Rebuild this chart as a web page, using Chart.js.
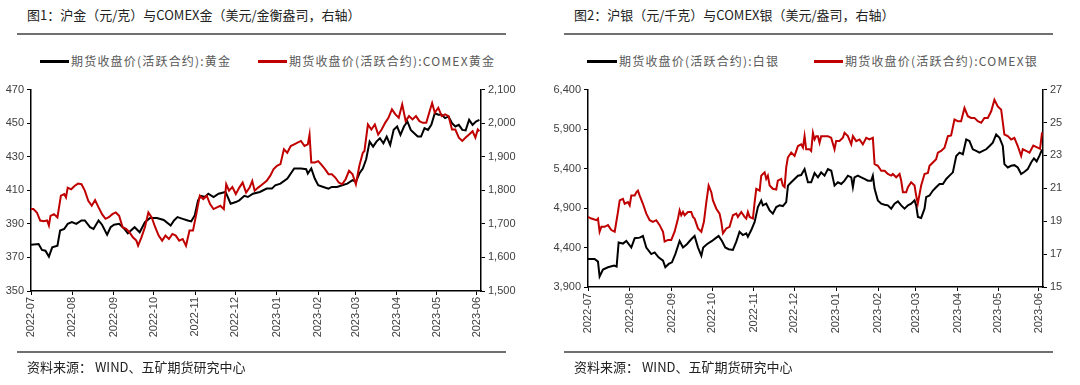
<!DOCTYPE html>
<html><head><meta charset="utf-8">
<script src="https://cdn.jsdelivr.net/npm/chart.js@4/dist/chart.umd.min.js"></script>
<style>
body{margin:0;width:1080px;height:385px;background:#fff;position:relative;overflow:hidden;font-family:"Noto Sans CJK SC",sans-serif;}
.t{position:absolute;font-size:13px;color:#222;white-space:nowrap;line-height:18px;}
.rule{position:absolute;height:2px;background:#707070;}
.leg{position:absolute;font-size:12px;color:#595959;letter-spacing:1.2px;white-space:nowrap;line-height:16px;}
.sw{position:absolute;height:3px;}
.box{position:absolute;top:80px;width:540px;height:275px;}
</style></head><body>
<div class="t" style="left:27px;top:6px;">图1：沪金（元/克）与COMEX金（美元/金衡盎司，右轴）</div>
<div class="rule" style="left:17px;top:33px;width:489px;"></div>
<div class="sw" style="left:40px;top:60px;width:29px;background:#000;"></div>
<div class="leg" style="left:71px;top:53px;">期货收盘价(活跃合约):黄金</div>
<div class="sw" style="left:258px;top:60px;width:29px;background:#C00000;"></div>
<div class="leg" style="left:289px;top:53px;">期货收盘价(活跃合约):COMEX黄金</div>
<div class="box" style="left:0;"><canvas id="c1" width="540" height="275"></canvas></div>
<div class="rule" style="left:17px;top:351px;width:489px;"></div>
<div class="t" style="left:27px;top:358px;">资料来源：&nbsp;WIND、五矿期货研究中心</div>

<div class="t" style="left:574px;top:6px;">图2：沪银（元/千克）与COMEX银（美元/盎司，右轴）</div>
<div class="rule" style="left:564px;top:33px;width:489px;"></div>
<div class="sw" style="left:587px;top:60px;width:30px;background:#000;"></div>
<div class="leg" style="left:619px;top:53px;">期货收盘价(活跃合约):白银</div>
<div class="sw" style="left:814px;top:60px;width:29px;background:#C00000;"></div>
<div class="leg" style="left:845px;top:53px;">期货收盘价(活跃合约):COMEX银</div>
<div class="box" style="left:540px;"><canvas id="c2" width="540" height="275"></canvas></div>
<div class="rule" style="left:564px;top:351px;width:489px;"></div>
<div class="t" style="left:574px;top:358px;">资料来源：&nbsp;WIND、五矿期货研究中心</div>

<script>
// x tick labels (month starts, in days since 2022-07-01)
const monthLabels = ["2022-07","2022-08","2022-09","2022-10","2022-11","2022-12","2023-01","2023-02","2023-03","2023-04","2023-05","2023-06"];
const monthDays = [0,31,62,92,123,153,184,215,243,274,304,334];

// SHFE gold (元/克), left axis
const shfeGoldDay = [0,5.7,8.2,10.8,13.4,15.9,19.8,21.8,24.9,27.5,30.6,33.9,37.8,40.3,44.2,46.8,50.6,53.2,57,59.6,62.2,66,69.9,72.5,77.6,81.4,85.3,89.2,94.3,99.4,104.6,107.1,109.7,113.6,117.4,120,122.6,125.1,127.2,130.3,132.8,136.7,140.5,145.7,149.5,153.4,156,159.8,162.4,166.2,171.4,176.5,180.4,182.9,186.8,192,197.1,202.2,206.1,207.3,209.9,212.5,215.1,218.9,222.8,225.3,229.2,233,236.9,240.8,243.3,245.9,248.5,251,253.6,256.2,258.7,261.3,263.9,266.4,269,271.6,274.2,276.7,279.3,281.9,284.4,287,289.6,292.1,294.7,297.3,299.8,302.4,305,307.6,310.1,312.7,315.3,317.8,320.4,323,325.5,328.1,330.7,333.2,335.8];
const shfeGold = [377.5,378,374.5,374,370.5,376,377,386,387,390,391,390,392,392,388,387,392,389.5,383.6,388,389.5,390,387,384.4,388,385,391,393.5,393.5,392.3,389,392,394,393,392,391.5,395,404,406.7,406,408,406,408,409,402,403,404,406.7,406,408,409,411,411,413,414,417,423,423,422.6,420,423,417,413,412,411,412,412,413,414,416,415,420,423,428.5,439,436,439,441,438,442,437,446,448,443,448,451,446,444,442,442,447,446,449,456,455,455,453,454,450,448,449,446,445.7,452,449,451,452];

// COMEX gold (美元/金衡盎司), right axis
const comexGoldDay = [0,1.8,4.4,6.9,9.5,12.1,13.4,14.6,17.2,19.8,22.4,24.9,26.2,27.5,30.1,32.6,35.2,37.8,40.3,42.9,45.5,48,50.6,53.2,55.8,58.3,60.9,63.5,66,68.6,71.2,73.7,76.3,78.9,80.2,82.7,85.3,87.9,90.4,93,95.6,98.2,100.7,103.3,105.9,108.4,111,113.6,116.1,118.7,121.3,123.8,126.4,129,131.6,134.1,136.7,139.3,141.8,144.4,146.2,148.3,150.8,153.4,156,158.5,161.1,163.7,165.7,167.5,170.1,172.7,176.5,179.1,181.7,184.2,186.8,189.4,191.9,194.5,197.1,199.6,202.2,204.8,207.3,208.6,209.9,212.5,215.1,217.6,220.2,222.8,225.3,227.9,230.5,233,235.6,238.2,240.8,243.3,245.9,248.5,249.7,252.3,254.9,257.5,260,262.6,265.2,267.7,270.3,272.9,275.4,278,280.6,283.1,285.7,288.3,290.9,293.4,296,298.6,300.4,302.4,305,307.6,310.1,312.7,315.3,317.8,320.4,323,325.5,328.1,330.7,332.8,334.6,335.8];
const comexGold = [1744,1744,1734,1710,1708,1710,1695,1724,1729,1719,1784,1789,1779,1808,1803,1813,1820,1818,1799,1769,1754,1771,1749,1729,1715,1720,1729,1734,1724,1690,1685,1675,1660,1650,1635,1660,1690,1734,1719,1690,1665,1650,1665,1655,1670,1665,1650,1655,1635,1680,1680,1729,1784,1774,1784,1759,1744,1749,1754,1744,1818,1799,1810,1789,1808,1823,1793,1808,1828,1799,1808,1816,1828,1843,1863,1873,1878,1922,1912,1932,1937,1942,1947,1932,1937,1966,1883,1883,1887,1876,1863,1848,1848,1838,1823,1818,1833,1858,1848,1818,1873,1912,1917,1996,1981,1996,1966,1981,2001,2016,2041,2026,2016,2056,2006,2021,2011,2021,2006,2001,2001,2036,2060,2031,2046,2021,2026,2021,1981,1981,1957,1947,1957,1966,1976,1957,1981,1976];

// SHFE silver (元/千克), left axis
const shfeSilverDay = [0,4.9,7.4,8.6,11.1,14.8,19.3,21.2,22.7,25.9,28.4,32.1,34.6,38.3,40.7,43.2,46.9,49.4,52.3,55.6,57.3,59.8,62.2,64.7,67.9,70.4,73.3,76.5,79,81.5,84,85.4,88.1,91.9,95.1,96.8,99.3,101.7,104.2,107.4,109.9,112.3,114.8,117.3,118.5,121,123.5,125.9,128.4,129.6,132.1,134.6,137,139.5,142,144.4,146.9,148.2,150.6,153.1,155.6,158,160.5,163,165.4,167.9,170.4,172.8,175.3,177.8,180.3,182.7,185.2,187.7,190.1,192.6,195.1,196.3,197.5,200,202.5,204.9,207.4,209.9,211.1,212.4,214.8,217.3,219.8,222.2,224.7,227.2,229.7,232.1,234.6,237.1,239.5,242,243.2,244.5,246.9,249.4,250.6,253.1,255.6,258,260.5,263,265.5,267.9,270.4,272.9,275.3,277.8,280.3,282.7,285.2,287.7,290.1,292.6,295.1,297.6,300,302.5,305,307.4,308.6,311.1,313.6,316,318.5,321,323.5,325.9,328.5,330.5,332.5,334.5,336.5];
const shfeSilver = [4254,4254,4221,4033,4121,4150,4171,4158,4463,4450,4483,4400,4517,4525,4546,4400,4317,4338,4275,4233,4150,4192,4213,4317,4483,4400,4442,4504,4546,4400,4296,4400,4442,4483,4525,4546,4483,4400,4379,4370,4474,4600,4558,4579,4537,4621,4725,4913,4996,4934,4955,4871,4829,4913,4934,4925,4976,5184,5226,5268,5310,5318,5393,5226,5226,5343,5289,5352,5310,5393,5372,5184,5226,5205,5247,5310,5289,5164,5289,5310,5289,5268,5247,5247,5310,5143,4997,4955,4942,4934,4892,4955,4984,4934,4892,4934,4955,4997,4934,4788,4775,4892,5038,5059,5122,5164,5205,5205,5268,5310,5352,5560,5602,5581,5769,5748,5644,5623,5602,5623,5644,5686,5727,5832,5790,5686,5456,5414,5435,5443,5414,5331,5360,5393,5480,5530,5490,5560,5640];

// COMEX silver (美元/盎司), right axis
const comexSilverDay = [0,2.5,6.2,7.4,8.6,9.9,12.3,14.8,17.3,19.8,22.2,23.5,25.9,27.2,29.6,30.9,32.1,34.6,35.8,37,38.3,40.7,43.2,45.7,48.1,50.6,53.1,55.6,56.8,59.3,61.7,64.2,66.7,67.9,69.1,70.4,71.6,74.1,76.5,77.8,79,81.5,84,85.9,87.7,89.4,91.4,92.6,95.1,97.5,98.8,100,102.5,104.9,107.4,109.9,111.1,113.6,116,117.3,118.5,119.8,122.2,123.5,124.7,127.2,128.4,129.6,130.9,132.1,133.3,134.6,137,139.5,140.7,143.2,144.4,145.7,146.9,148.1,150.6,153.1,155.6,158,159.3,160.5,161.7,164.2,165.4,166.7,167.9,169.1,170.4,171.6,172.8,175.3,177.8,180.2,182.7,183.9,186.4,188.9,190.1,192.6,195.1,196.3,198.8,201.2,203.7,206.2,208.6,211.1,212.4,214.8,217.3,219.8,222.2,224.7,225.9,228.4,230.9,232.1,233.4,235.8,237.1,239.5,242,243.2,244.4,246.9,249.4,251.9,253.1,255.6,258,259.3,261.7,264.2,266.7,269.1,271.6,274.1,276.5,279,281.5,283.9,286.4,288.9,291.4,293.8,296.3,298.8,301.2,303.7,306.2,308.6,311.1,313.6,316,318.5,321,322.2,324.7,327.2,330,332.5,335,336.5];
const comexSilver = [19.26,19.16,19.06,19.16,18.36,18.66,18.66,18.76,18.46,18.36,19.56,20.26,20.36,20.06,20.16,19.96,20.56,20.56,20.76,20.86,20.56,20.06,19.46,19.06,18.96,19.06,18.76,18.36,17.76,17.86,17.86,18.36,19.16,19.66,19.36,19.56,19.36,19.56,19.56,19.26,19.16,18.56,18.36,18.96,20.16,21.17,20.76,20.26,19.76,19.46,18.96,18.26,18.56,18.66,19.36,19.46,19.26,19.56,19.26,19.16,19.56,19.26,19.16,20.16,20.97,20.86,21.77,21.87,21.97,21.57,21.77,21.17,20.97,20.92,21.47,21.57,21.17,21.07,22.27,22.87,23.17,22.97,23.57,23.67,23.47,24.17,23.37,23.37,23.27,24.37,23.97,24.17,24.17,23.77,24.17,24.17,24.17,24.07,23.37,23.87,23.87,24.07,24.37,24.17,23.67,24.17,23.87,23.97,23.67,24.07,23.97,24.07,22.47,22.37,22.07,22.07,21.87,21.77,21.87,21.67,21.87,21.47,20.76,20.76,21.07,21.37,21.17,20.56,20.06,21.17,21.87,21.93,22.37,22.57,22.77,23.17,23.27,23.47,24.17,24.21,25.18,25.08,25.08,25.88,25.38,25.28,25.28,25.08,24.98,25.28,25.28,25.68,26.38,25.98,25.78,24.27,24.17,23.97,24.07,23.57,22.97,23.37,23.27,23.17,23.6,23.5,23.4,24.4];

const TICK_FONT = {family:'"Liberation Sans", Arial, sans-serif', size:11};
const TICK_COLOR = '#404040';

function pts(xs, ys){ return xs.map((x,i)=>({x:x,y:ys[i]})); }

function yAxis(pos, min, max, step, width){
  return {
    type:'linear', position:pos, min:min, max:max,
    ticks:{stepSize:step, color:TICK_COLOR, font:TICK_FONT, padding:3},
    grid:{drawOnChartArea:false, drawTicks:true, tickLength:4, color:'#000', lineWidth:1},
    border:{display:true, color:'#000', width:1.5},
    afterFit:(s)=>{ s.width = width; }
  };
}

function build(id, cfg){
  new Chart(document.getElementById(id), {
    type:'line',
    data:{datasets:[
      {data:pts(cfg.rDay,cfg.rVal), yAxisID:'y1', borderColor:'#C00000', borderWidth:2, pointRadius:0, tension:0, order:0},
      {data:pts(cfg.bDay,cfg.bVal), yAxisID:'y', borderColor:'#000000', borderWidth:2, pointRadius:0, tension:0, order:1}
    ]},
    options:{
      responsive:false, devicePixelRatio:1, animation:false,
      layout:{padding:{left:0,right:cfg.padR,top:8,bottom:0}},
      plugins:{legend:{display:false}, tooltip:{enabled:false}, title:{display:false}},
      scales:{
        x:{type:'linear', min:0, max:cfg.xMax,
          afterBuildTicks:(s)=>{ s.ticks = monthDays.map(v=>({value:v})); },
          afterFit:(s)=>{ s.height = cfg.xH; },
          ticks:{autoSkip:false, minRotation:90, maxRotation:90, padding:2, color:TICK_COLOR, font:TICK_FONT,
            callback:(v,i)=>monthLabels[i]},
          grid:{drawOnChartArea:false, drawTicks:true, tickLength:4, color:'#000', lineWidth:1},
          border:{display:true, color:'#000', width:1.5}
        },
        y: yAxis('left', cfg.yMin, cfg.yMax, cfg.yStep, cfg.yW),
        y1: yAxis('right', cfg.y1Min, cfg.y1Max, cfg.y1Step, cfg.y1W)
      }
    }
  });
}

build('c1', {bDay:shfeGoldDay, bVal:shfeGold, rDay:comexGoldDay, rVal:comexGold,
  xMax:337, xH:64, padR:14, yMin:350, yMax:470, yStep:20, yW:31, y1Min:1500, y1Max:2100, y1Step:100, y1W:45});
build('c2', {bDay:shfeSilverDay, bVal:shfeSilver, rDay:comexSilverDay, rVal:comexSilver,
  xMax:337.2, xH:68, padR:7, yMin:3900, yMax:6400, yStep:500, yW:48, y1Min:15, y1Max:27, y1Step:2, y1W:30});
</script>
</body></html>
